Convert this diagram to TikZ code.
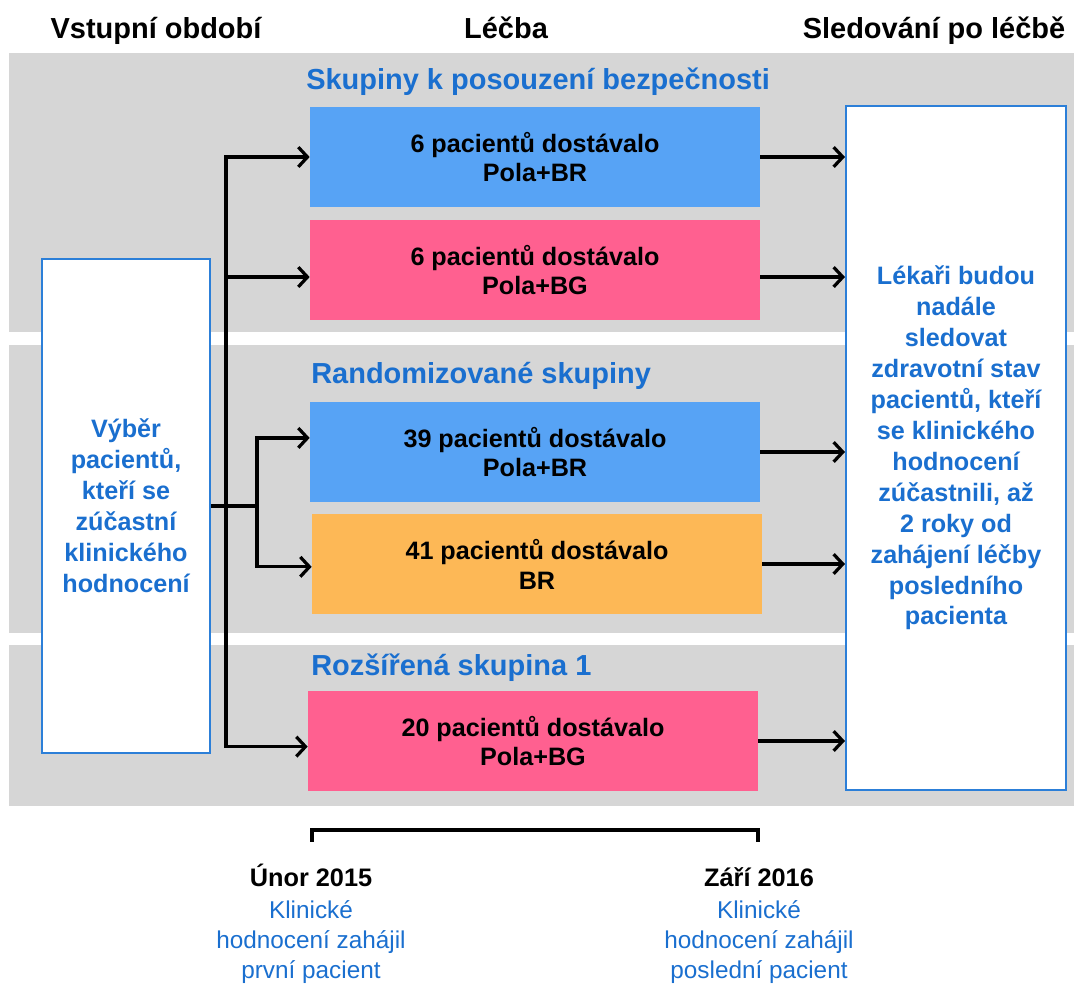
\documentclass[tikz,border=0pt]{standalone}
\usepackage{fontspec}
\setmainfont{Liberation Sans}
\usepackage{xcolor}
\usetikzlibrary{arrows.meta, positioning}
\definecolor{bandgray}{HTML}{D6D6D6}
\definecolor{armblue}{HTML}{57A3F5}
\definecolor{armpink}{HTML}{FF6090}
\definecolor{armorange}{HTML}{FDB856}
\definecolor{txtblue}{HTML}{1A6FCF}
\definecolor{edgeblue}{HTML}{2C7FD8}

\begin{document}
\begin{tikzpicture}[x=0.025cm, y=-0.025cm,
  hdr/.style={font=\fontsize{20.6}{24}\selectfont\bfseries, anchor=base, inner sep=0},
  grp/.style={font=\fontsize{20.6}{24}\selectfont\bfseries, text=txtblue, anchor=base west, inner sep=0},
  arm/.style={minimum width=11.25cm, minimum height=2.5cm, inner sep=0, align=center,
    font=\fontsize{17.9}{21.3}\selectfont\bfseries},
  side/.style={draw=edgeblue, line width=1.4pt, fill=white, inner sep=0, align=center,
    text=txtblue, font=\fontsize{17.9}{22}\selectfont\bfseries},
  datum/.style={font=\fontsize{18}{22}\selectfont\bfseries, anchor=base, inner sep=0},
  note/.style={font=\fontsize{17.3}{21.6}\selectfont, text=txtblue, align=center, anchor=north, inner sep=0},
  flow/.style={line width=2.3pt, -{Straight Barb[length=6.5pt,width=14pt]}},
  trunk/.style={line width=2.3pt}]
  \useasboundingbox (0,0) rectangle (1074,985);
  % gray bands behind the three groups
  \fill[bandgray] (9,53) rectangle (1074,332);
  \fill[bandgray] (9,345) rectangle (1074,633);
  \fill[bandgray] (9,645) rectangle (1074,806);
  % column headings
  \node[hdr] (hin) at (156,39) {Vstupní období};
  \node[hdr] (htx) at (506,39) {Léčba};
  \node[hdr] (hfu) at (934,39) {Sledování po léčbě};
  % group titles
  \node[grp] (gsafe) at (306,90) {Skupiny k posouzení bezpečnosti};
  \node[grp] (grand) at (311,383) {Randomizované skupiny};
  \node[grp] (gexp) at (311,675) {Rozšířená skupina 1};
  % treatment arms
  \node[arm, fill=armblue] (safeBR) at (535,157) {6 pacientů dostávalo\\Pola+BR};
  \node[arm, fill=armpink] (safeBG) at (535,270) {6 pacientů dostávalo\\Pola+BG};
  \node[arm, fill=armblue] (randBR) at (535,452) {39 pacientů dostávalo\\Pola+BR};
  \node[arm, fill=armorange] (randB) at (537,564) {41 pacientů dostávalo\\BR};
  \node[arm, fill=armpink] (expBG) at (533,741) {20 pacientů dostávalo\\Pola+BG};
  % entry and follow-up boxes
  \node[side, minimum width=4.2cm, minimum height=12.35cm] (select) at (126,506)
    {Výběr\\pacientů,\\kteří se\\zúčastní\\klinického\\hodnocení};
  \node[side, minimum width=5.5cm, minimum height=17.1cm] (follow) at (956,448)
    {Lékaři budou\\nadále\\sledovat\\zdravotní stav\\pacientů, kteří\\se klinického\\hodnocení\\zúčastnili, až\\2 roky od\\zahájení léčby\\posledního\\pacienta};
  % branching
  \coordinate (hub) at (226,506);
  \coordinate (fork) at (257,506);
  \draw[trunk] (select.east) -- (fork);
  \draw[flow] (hub) |- (safeBR.west);
  \draw[flow] (hub) |- ([yshift=-5pt]safeBG.west);
  \draw[flow] (hub) |- ([yshift=-4pt]expBG.west);
  \draw[flow] (fork) |- ([yshift=10pt]randBR.west);
  \draw[flow] (fork) |- ([yshift=-2pt]randB.west);
  % into follow-up
  \foreach \a in {safeBR,randBR,randB,expBG}
    \draw[flow] (\a.east) -- (\a.east -| follow.west);
  \draw[flow] ([yshift=-5pt]safeBG.east) -- ([yshift=-5pt]safeBG.east -| follow.west);
  % time span bracket
  \coordinate (tstart) at (312,830);
  \coordinate (tend) at (758,830);
  \draw[line width=2.2pt] ([yshift=-8.5pt]tstart) -- (tstart) -- (tend) -- ([yshift=-8.5pt]tend);
  \node[datum] (feb) at (311,886) {Únor 2015};
  \node[datum] (sep) at (759,886) {Září 2016};
  \node[note] (febtxt) at (311,900) {Klinické\\hodnocení zahájil\\první pacient};
  \node[note] (septxt) at (759,900) {Klinické\\hodnocení zahájil\\poslední pacient};
\end{tikzpicture}
\end{document}
